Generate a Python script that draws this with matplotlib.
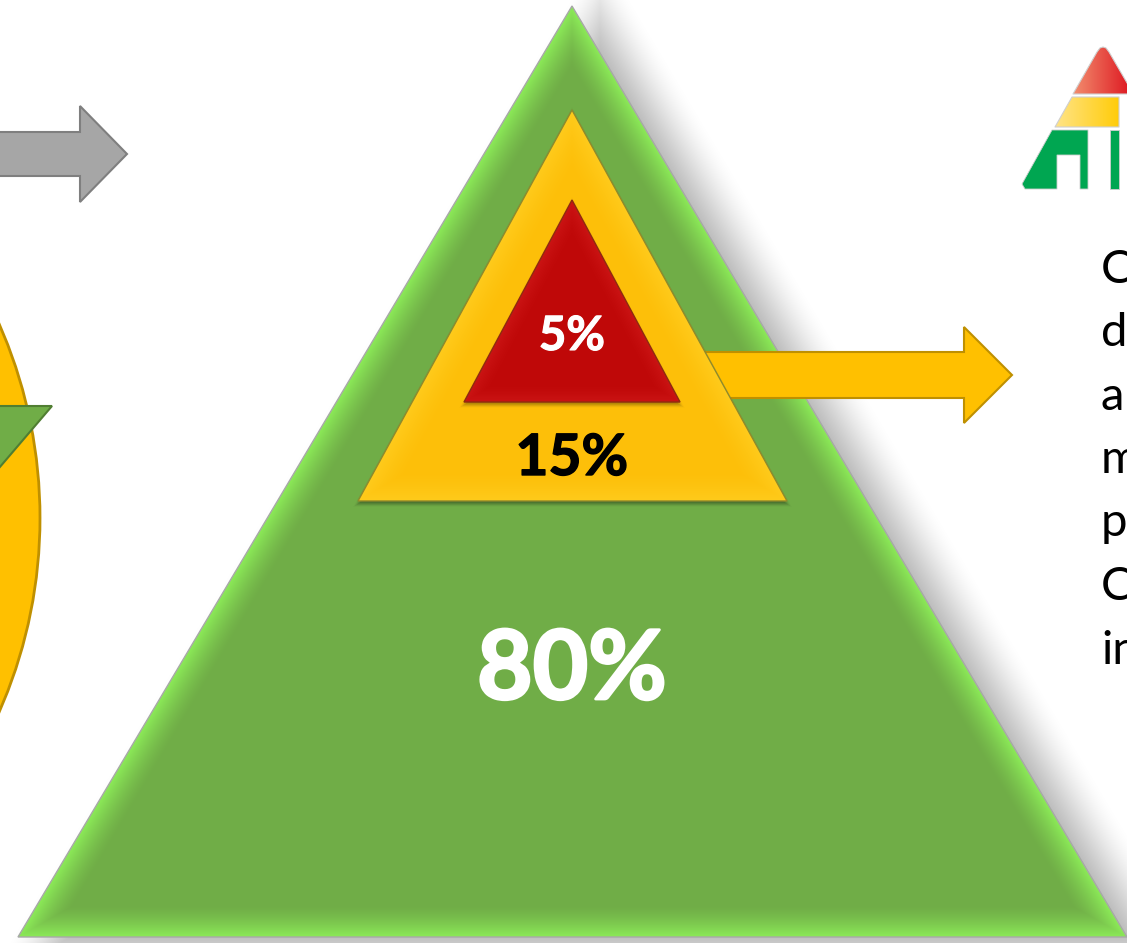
import numpy as np
import matplotlib
matplotlib.use('Agg')
import matplotlib.pyplot as plt
import matplotlib.patheffects as pe
from matplotlib.colors import to_rgb
from matplotlib.patches import Polygon, Ellipse

# Share of each pyramid level, bottom to top.
shares = [80, 15, 5]
share_colors = ['white', 'black', 'white']
side_text = ['C', 'd', 'a', 'm', 'p', 'C', 'in']

W, H = 1127, 943
plt.rcParams['font.family'] = ['Lato', 'DejaVu Sans']

fig = plt.figure(figsize=(W / 100, H / 100), dpi=100)
ax = fig.add_axes([0, 0, 1, 1])
ax.set_xlim(0, W)
ax.set_ylim(H, 0)
ax.axis('off')

X, Y = np.meshgrid(np.arange(W) + 0.5, np.arange(H) + 0.5)


def edge_distance(verts):
	# Signed distance to the polygon outline, positive inside (convex, clockwise on screen).
	d = np.full(X.shape, np.inf)
	for (x0, y0), (x1, y1) in zip(verts, verts[1:] + verts[:1]):
		length = np.hypot(x1 - x0, y1 - y0)
		d = np.minimum(d, ((x1 - x0) * (Y - y0) - (y1 - y0) * (X - x0)) / length)
	return d


def shadow(verts, dx, dy, blur, strength, z):
	moved = [(x + dx, y + dy) for x, y in verts]
	t = np.clip(edge_distance(moved) / blur + 0.5, 0, 1)
	rgba = np.zeros(X.shape + (4,))
	rgba[..., 3] = strength * t * t * (3 - 2 * t)
	ax.imshow(rgba, extent=(0, W, H, 0), zorder=z, aspect='auto', interpolation='nearest')


def bevel(verts, base, rim, width, z, power=1.4, edge=None):
	# Flat fill that brightens towards the outline.
	d = edge_distance(verts)
	t = np.clip(1 - d / width, 0, 1)[..., None] ** power
	rgb = np.array(to_rgb(base)) * (1 - t) + np.array(to_rgb(rim)) * t
	rgba = np.dstack([rgb, np.clip(d + 0.5, 0, 1)])
	ax.imshow(rgba, extent=(0, W, H, 0), zorder=z, aspect='auto', interpolation='nearest')
	if edge:
		ax.add_patch(Polygon(verts, closed=True, fill=False, ec=edge, lw=1, zorder=z + 0.1))


def hgrad(verts, left, right, x0, x1, z):
	# Horizontal gradient fill for the logo pieces.
	t = np.clip((X - x0) / (x1 - x0), 0, 1)[..., None]
	rgb = np.array(to_rgb(left)) * (1 - t) + np.array(to_rgb(right)) * t
	rgba = np.dstack([rgb, np.ones(X.shape)])
	im = ax.imshow(rgba, extent=(0, W, H, 0), zorder=z, aspect='auto', interpolation='nearest')
	p = Polygon(verts, closed=True, fc='none', ec='#CFCFCF', lw=0.8, joinstyle='round', zorder=z + 0.1)
	ax.add_patch(p)
	im.set_clip_path(p)


# Left side: arrow, circle and small green triangle
ax.add_patch(Polygon([(-5, 132), (80, 132), (80, 106), (127, 154), (80, 202), (80, 176), (-5, 176)],
	closed=True, fc='#A6A6A6', ec='#7F7F7F', lw=1.5, zorder=2))
ax.add_patch(Ellipse((-441, 518), 962, 962, fc='#FFC000', ec='#BF9000', lw=2, zorder=2))
ax.add_patch(Polygon([(-30, 406), (52, 406), (-30, 502)], closed=True,
	fc='#70AD47', ec='#507E32', lw=1.5, zorder=3))

# Pyramid
outer = [(572, 6), (1127, 937), (18, 937)]
middle = [(572, 110), (787, 501), (358, 501)]
inner = [(572, 200), (680, 402), (464, 402)]

shadow(outer, 28, 14, 80, 0.33, 3)
bevel(outer, '#70AD47', '#8CEB58', 32, 4, edge='#A8A8A8')

ax.add_patch(Polygon([(690, 352), (964, 352), (964, 327), (1012, 375), (964, 423), (964, 398), (690, 398)],
	closed=True, fc='#FFC000', ec='#BF9000', lw=1.5, zorder=5))

shadow(middle, 0, 3, 7, 0.4, 6)
bevel(middle, '#FDBF09', '#FFCB1C', 30, 7, edge='#8F8A2C')
shadow(inner, 0, 3, 7, 0.35, 8)
bevel(inner, '#BF0808', '#CB1414', 18, 9, edge='#8F2A10')

# Logo, cut off by the right edge
hgrad([(1097, 52), (1100, 48), (1103, 47), (1106, 48), (1109, 52), (1130, 88), (1130, 94), (1073, 94)],
	'#F28A6C', '#DF1F26', 1075, 1127, 10)
hgrad([(1072, 97), (1119, 97), (1119, 127), (1055, 127)], '#FFE488', '#FFCC08', 1055, 1119, 10)
ax.add_patch(Polygon([(1052, 130), (1088, 130), (1088, 189), (1080, 189), (1080, 155), (1057, 155),
	(1057, 189), (1025, 189), (1022, 184)], closed=True, fc='#00A651', ec='#CFCFCF', lw=0.6, zorder=10))
ax.add_patch(Polygon([(1110, 130), (1119, 130), (1119, 189), (1110, 189)], closed=True,
	fc='#00A651', ec='#CFCFCF', lw=0.6, zorder=10))

# Share labels, thickened a little with a stroke
share_pos = [(572, 699), (572, 475), (572, 350)]
share_size = [69, 41, 34]
share_stroke = [2.0, 1.0, 0.8]
for value, color, (x, y), size, stroke in zip(shares, share_colors, share_pos, share_size, share_stroke):
	ax.text(x, y, f'{value}%', color=color, fontsize=size, fontweight='bold',
		ha='center', va='baseline', zorder=12,
		path_effects=[pe.withStroke(linewidth=stroke, foreground=color)])

# Text column running off the right edge
baselines = [283, 346, 410, 473, 536, 600, 664]
for line, y in zip(side_text, baselines):
	ax.text(1101, y, line, color='black', fontsize=34, ha='left', va='baseline', zorder=12)

ax.set_xlim(0, W)
ax.set_ylim(H, 0)
fig.savefig('out.png', dpi=100)
